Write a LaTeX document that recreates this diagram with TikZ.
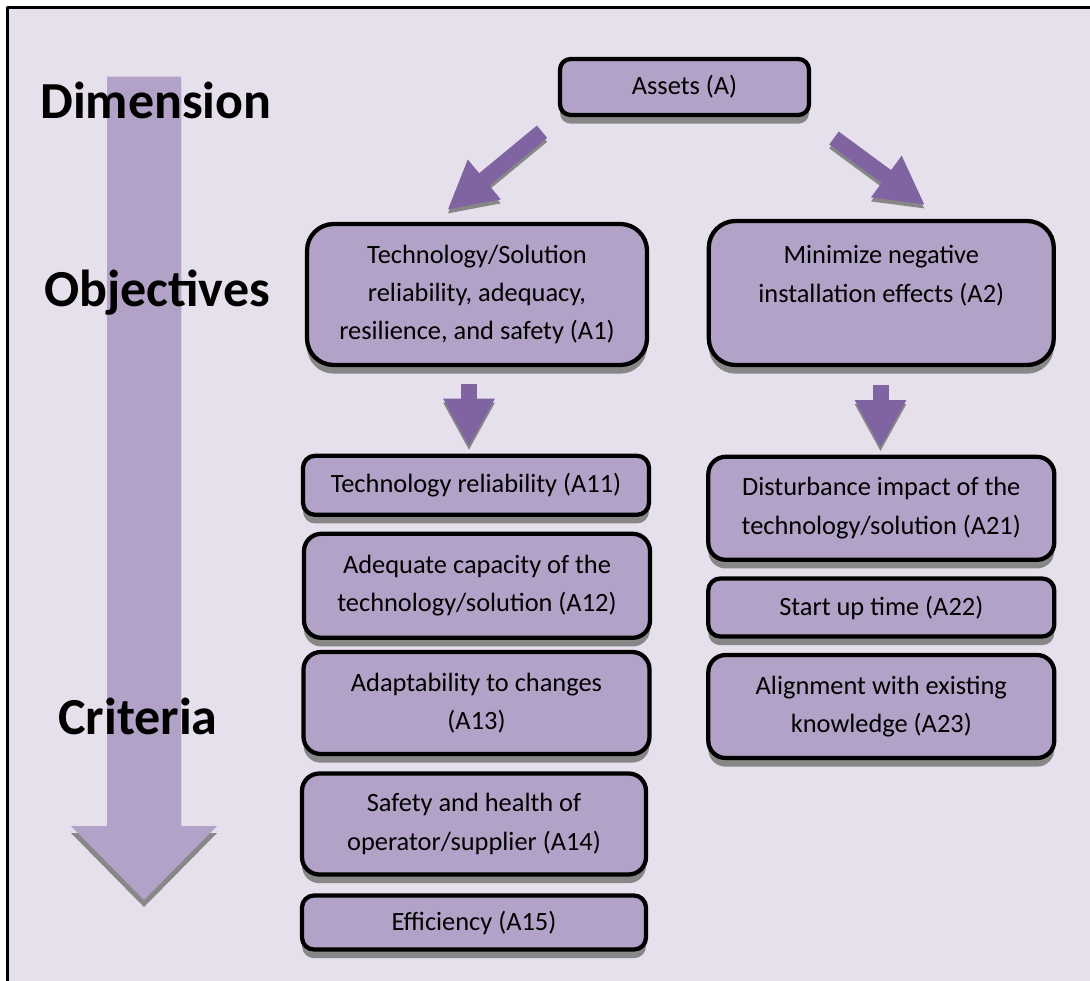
\documentclass[tikz,border=0pt]{standalone}
\usepackage{fontspec}
\setmainfont{Carlito}
\usetikzlibrary{arrows.meta,shadows,calc}
\definecolor{bgpurple}{HTML}{E5E0EC}
\definecolor{boxpurple}{HTML}{B2A2C7}
\definecolor{arrowpurple}{HTML}{8064A2}
\definecolor{shadowgray}{HTML}{878787}
\tikzset{
	goalbox/.style n args={3}{draw=black, line width=3.2pt, fill=boxpurple, rounded corners=#3,
		minimum width=#1*0.75pt, minimum height=#2*0.75pt, inner sep=0pt, align=center,
		font=\fontsize{19.8}{28.8}\selectfont,
		drop shadow={shadow xshift=0pt, shadow yshift=-6.5pt, fill=shadowgray, opacity=1}},
	blockarrow/.style={line width=12pt, -{Triangle[width=36pt,length=36pt]}, draw=arrowpurple},
	dimlabel/.style={anchor=base west, inner sep=0pt, font=\fontsize{39}{47}\selectfont\bfseries},
}
\begin{document}
\begin{tikzpicture}[x=0.75pt, y=-0.75pt, line join=round]
	\useasboundingbox (0,0) rectangle (1090,981);
	% background and frame
	\fill[bgpurple] (7.5,7.5) rectangle (1100,990);
	\draw[line width=2.2pt] (7.5,990)--(7.5,7.5)--(1100,7.5);
	% big arrow on the left
	\fill[shadowgray] (107,83.7)--(181,83.7)--(181,833)--(217,833)--(144,907)--(71,833)--(107,833)--cycle;
	\fill[boxpurple] (107,76.7)--(181,76.7)--(181,826)--(217,826)--(144,900)--(71,826)--(107,826)--cycle;
	\path
	(40,118) node[dimlabel] (dim) {Dimension}
	(44,306) node[dimlabel] (obj) {Objectives}
	(58,734) node[dimlabel] (crit) {Criteria};
	% boxes
	\node[goalbox={249}{56}{8pt}] (A) at (684.5,87) {Assets (A)};
	\node[goalbox={340}{141}{20pt}] (A1) at (477,294.5) {Technology/Solution\\reliability, adequacy,\\resilience, and safety (A1)};
	\node[goalbox={345}{144}{20pt}] (A2) at (881.3,293) {Minimize negative\\installation effects (A2)\\\mbox{}};
	\node[goalbox={346}{59}{9pt}] (A11) at (476,485.3) {Technology reliability (A11)};
	\node[goalbox={346}{104}{13pt}] (A12) at (477,585.8) {Adequate capacity of the\\technology/solution (A12)};
	\node[goalbox={346}{102}{13pt}] (A13) at (476.5,703) {Adaptability to changes\\(A13)};
	\node[goalbox={344}{101}{13pt}] (A14) at (474,824) {Safety and health of\\operator/supplier (A14)};
	\node[goalbox={344}{54}{9pt}] (A15) at (474,922.5) {Efficiency (A15)};
	\node[goalbox={346}{103}{13pt}] (A21) at (881.3,508.3) {Disturbance impact of the\\technology/solution (A21)};
	\node[goalbox={346}{58}{9pt}] (A22) at (881.3,607.5) {Start up time (A22)};
	\node[goalbox={346}{103}{13pt}] (A23) at (881.3,706.5) {Alignment with existing\\knowledge (A23)};
	% arrow ends
	\coordinate (tailL) at (542,131.7);
	\coordinate (tipL) at (447.3,210);
	\coordinate (tailR) at (834,138);
	\coordinate (tipR) at (925,205);
	\coordinate (tailD1) at (469,384);
	\coordinate (tipD1) at (469,446.7);
	\coordinate (tailD2) at (880.5,385);
	\coordinate (tipD2) at (880.5,448);
	\foreach \from/\to in {tailL/tipL, tailR/tipR, tailD1/tipD1, tailD2/tipD2}{
		\draw[blockarrow, draw=shadowgray] ([yshift=-3pt]\from)--([yshift=-3pt]\to);
		\draw[blockarrow] (\from)--(\to);
	}
\end{tikzpicture}
\end{document}
